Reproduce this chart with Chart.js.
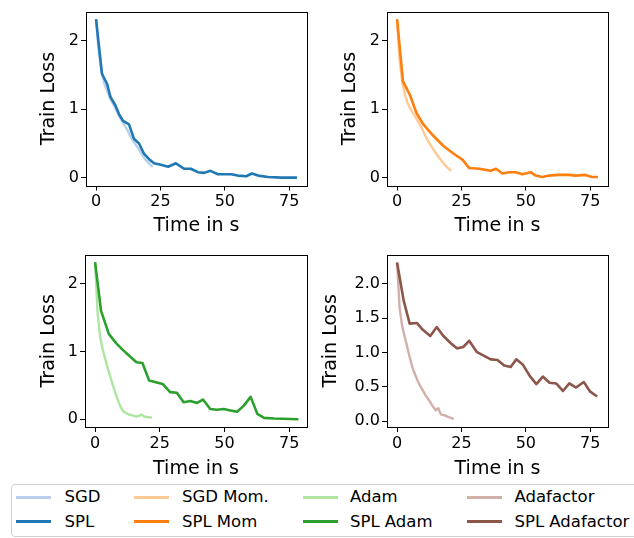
<!DOCTYPE html>
<html>
<head>
<meta charset="utf-8">
<script src="https://cdn.jsdelivr.net/npm/chart.js@4.4.0/dist/chart.umd.min.js"></script>
<style>
  body { margin: 0; background: #fff; font-family: "DejaVu Sans", sans-serif; }
  #wrap { position: relative; width: 634px; height: 538px; overflow: hidden; }
  canvas { position: absolute; }
  #legend { position: absolute; left: 10.5px; top: 483.5px; width: 640px; height: 53px;
            border: 1px solid #d0d0d0; border-radius: 4px; box-sizing: border-box; }
  .lg-line { position: absolute; width: 35px; height: 3px; }
  .lg-text { position: absolute; font-size: 16.5px; line-height: 20px; color: #000; white-space: nowrap; }
</style>
</head>
<body>
<div id="wrap">
  <canvas id="c1" width="317" height="240" style="left:0;top:0"></canvas>
  <canvas id="c2" width="317" height="240" style="left:317px;top:0"></canvas>
  <canvas id="c3" width="317" height="240" style="left:0;top:243px"></canvas>
  <canvas id="c4" width="317" height="240" style="left:317px;top:243px"></canvas>
  <div id="legend"></div>
</div>
<script>
// ---- data ----
const xTickVals = [0, 25, 50, 75];
const yTickVals = [0, 1, 2];
const yTickValsFine = [0, 0.5, 1, 1.5, 2];

// baselines, logged about once per second
const sgdTime = [0,1,2,3,4,5,6,7,8,9,10,11,12,13,14,15,16,17,18,19,20,21,22];
const sgdLoss = [2.31,1.85,1.58,1.40,1.30,1.20,1.12,1.05,0.98,0.90,0.83,0.77,0.71,0.63,0.56,0.50,0.45,0.39,0.33,0.27,0.23,0.19,0.16];

const sgdMomTime = [0,1,2,3,4,5,6,7,8,9,10,11,12,13,14,15,16,17,18,19,20,21];
const sgdMomLoss = [2.31,1.72,1.40,1.22,1.10,1.02,0.96,0.90,0.83,0.77,0.69,0.61,0.54,0.48,0.42,0.36,0.31,0.26,0.21,0.17,0.13,0.10];

const adamTime = [0,1,2,3,4,5,6,7,8,9,10,11,12,13,14,15,16,17,18,19,20,21,22];
const adamLoss = [2.31,1.55,1.20,1.02,0.88,0.74,0.61,0.49,0.37,0.26,0.17,0.11,0.09,0.07,0.06,0.05,0.04,0.05,0.07,0.04,0.03,0.03,0.02];

const adafactorTime = [0,1,2,3,4,5,6,7,8,9,10,11,12,13,14,15,16,17,18,19,20,21,22];
const adafactorLoss = [2.31,1.65,1.38,1.23,1.07,0.92,0.78,0.68,0.59,0.51,0.45,0.38,0.33,0.27,0.21,0.16,0.19,0.10,0.09,0.08,0.06,0.05,0.03];

// SPL runs
const splTime = [0,2.3,4.3,5.6,7.5,8.9,10.5,12.8,14.7,16.7,18.6,20.6,22.5,25.1,28.0,31.0,34.2,36.8,39.5,42.0,44.4,47.3,52.5,55.0,58.3,60.5,62.9,66.8,72.0,78.0];
const splLoss = [2.32,1.52,1.37,1.18,1.06,0.93,0.83,0.78,0.57,0.50,0.35,0.27,0.21,0.19,0.16,0.21,0.13,0.13,0.08,0.07,0.10,0.05,0.05,0.03,0.02,0.06,0.03,0.01,0.00,0.00];

const splMomTime = [0,2.3,4.9,7.5,10.0,13.9,17.8,21.6,25.5,28.0,31.9,36.4,38.4,40.9,43.5,46.0,48.6,51.9,53.8,56.4,59.0,62.8,66.7,69.2,73.1,75.7,78.0];
const splMomLoss = [2.32,1.41,1.22,0.95,0.79,0.62,0.47,0.36,0.26,0.14,0.13,0.10,0.13,0.06,0.08,0.08,0.05,0.08,0.03,0.01,0.03,0.04,0.04,0.03,0.04,0.01,0.01];

const splAdamTime = [0,2.3,5.3,8.2,10.8,13.4,16.0,18.3,20.9,23.1,26.1,29.0,31.6,34.2,36.8,39.4,41.7,44.5,47.1,49.7,52.3,54.9,57.5,60.1,62.7,65.3,69.2,78.6];
const splAdamLoss = [2.32,1.60,1.26,1.12,1.02,0.93,0.84,0.83,0.57,0.55,0.52,0.40,0.39,0.25,0.27,0.24,0.29,0.15,0.14,0.15,0.13,0.11,0.20,0.33,0.08,0.02,0.01,0.00];

const splAdafactorTime = [0,2.6,4.9,7.7,10.0,12.9,15.4,18.0,21.0,23.2,25.7,28.0,30.9,33.8,36.4,39.0,41.6,44.1,46.3,48.9,51.5,54.1,56.6,59.2,61.8,64.4,66.9,69.5,72.5,75.0,77.7];
const splAdafactorLoss = [2.31,1.75,1.42,1.43,1.33,1.24,1.37,1.24,1.13,1.06,1.08,1.17,1.01,0.95,0.90,0.89,0.81,0.79,0.90,0.82,0.66,0.54,0.65,0.56,0.55,0.44,0.55,0.49,0.57,0.43,0.36];

const legendLabels = ['SGD', 'SGD Mom.', 'Adam', 'Adafactor', 'SPL', 'SPL Mom', 'SPL Adam', 'SPL Adafactor'];
// light baselines are the tab20 pastel tones, a little washed out
const legendColors = ['rgba(174,199,232,0.85)', 'rgba(255,187,120,0.8)', 'rgba(152,223,138,0.8)', 'rgba(196,156,148,0.8)',
                      '#1f77b4', '#ff7f0e', '#2ca02c', '#8c564b'];

// ---- helpers ----
const toPoints = (xs, ys) => xs.map((x, i) => ({ x: x, y: ys[i] }));

// matplotlib style box round the plot area
const framePlugin = {
    id: 'frame',
    afterDatasetsDraw(chart) {
        const a = chart.chartArea, ctx = chart.ctx;
        ctx.save();
        ctx.strokeStyle = '#000';
        ctx.lineWidth = 1;
        ctx.strokeRect(Math.round(a.left) + 0.5, Math.round(a.top) + 0.5,
                       Math.round(a.right - a.left), Math.round(a.bottom - a.top));
        ctx.restore();
    }
};

function makePanel(id, p) {
    const ctx = document.getElementById(id).getContext('2d');
    new Chart(ctx, {
        type: 'line',
        data: {
            datasets: [
                { label: p.baseLabel, data: toPoints(p.baseX, p.baseY), borderColor: p.baseColor,
                  borderWidth: 2.4, pointRadius: 0, tension: 0, order: 1, borderJoinStyle: 'round' },
                { label: p.splLabel, data: toPoints(p.splX, p.splY), borderColor: p.splColor,
                  borderWidth: 2.6, pointRadius: 0, tension: 0, order: 0, borderJoinStyle: 'round' }
            ]
        },
        options: {
            responsive: false,
            animation: false,
            devicePixelRatio: 1,
            layout: { padding: { left: 0, right: p.padRight, top: 10, bottom: 0 } },
            plugins: { legend: { display: false }, tooltip: { enabled: false } },
            scales: {
                x: {
                    type: 'linear', min: -3.9, max: 81.9,
                    afterBuildTicks: s => { s.ticks = xTickVals.map(v => ({ value: v })); },
                    afterFit: s => { s.height = p.xHeight; },
                    ticks: { color: '#000', font: { family: 'DejaVu Sans', size: 16 }, padding: 2, maxRotation: 0 },
                    grid: { drawOnChartArea: false, drawTicks: true, tickLength: 5, color: '#000' },
                    border: { display: false },
                    title: { display: true, text: 'Time in s', color: '#000',
                             font: { family: 'DejaVu Sans', size: 19 }, padding: { top: 0, bottom: 3 } }
                },
                y: {
                    type: 'linear', min: p.yMin, max: p.yMax,
                    afterBuildTicks: s => { s.ticks = p.yTicks.map(v => ({ value: v })); },
                    afterFit: s => { s.width = p.yWidth; },
                    ticks: { color: '#000', font: { family: 'DejaVu Sans', size: 16 }, padding: 2,
                             callback: v => v.toFixed(p.decimals) },
                    grid: { drawOnChartArea: false, drawTicks: true, tickLength: 5, color: '#000' },
                    border: { display: false },
                    title: { display: true, text: 'Train Loss', color: '#000',
                             font: { family: 'DejaVu Sans', size: 19 }, padding: { top: p.titlePad, bottom: 0 } }
                }
            }
        },
        plugins: [framePlugin]
    });
}

makePanel('c1', { baseLabel: legendLabels[0], baseX: sgdTime, baseY: sgdLoss, baseColor: legendColors[0],
    splLabel: legendLabels[4], splX: splTime, splY: splLoss, splColor: legendColors[4],
    yMin: -0.115, yMax: 2.43, yTicks: yTickVals, decimals: 0,
    yWidth: 86, padRight: 10, xHeight: 54.5, titlePad: 38 });

makePanel('c2', { baseLabel: legendLabels[1], baseX: sgdMomTime, baseY: sgdMomLoss, baseColor: legendColors[1],
    splLabel: legendLabels[5], splX: splMomTime, splY: splMomLoss, splColor: legendColors[5],
    yMin: -0.115, yMax: 2.43, yTicks: yTickVals, decimals: 0,
    yWidth: 70, padRight: 26, xHeight: 54.5, titlePad: 21.5 });

makePanel('c3', { baseLabel: legendLabels[2], baseX: adamTime, baseY: adamLoss, baseColor: legendColors[2],
    splLabel: legendLabels[6], splX: splAdamTime, splY: splAdamLoss, splColor: legendColors[6],
    yMin: -0.115, yMax: 2.43, yTicks: yTickVals, decimals: 0,
    yWidth: 85, padRight: 10, xHeight: 56, titlePad: 38 });

makePanel('c4', { baseLabel: legendLabels[3], baseX: adafactorTime, baseY: adafactorLoss, baseColor: legendColors[3],
    splLabel: legendLabels[7], splX: splAdafactorTime, splY: splAdafactorLoss, splColor: legendColors[7],
    yMin: -0.084, yMax: 2.424, yTicks: yTickValsFine, decimals: 1,
    yWidth: 70, padRight: 26, xHeight: 56, titlePad: 2.6 });

// ---- legend (4 columns, 2 rows), x positions are page coordinates ----
const legendBox = document.getElementById('legend');
const boxLeft = 11.5, boxTop = 484.5;
const colLineX = [16, 133.5, 302.5, 467];
const colTextX = [64.5, 182, 350, 514.5];
const rowY = [497, 521.5];
legendLabels.forEach((label, i) => {
    const col = i % 4, row = Math.floor(i / 4);
    const line = document.createElement('div');
    line.className = 'lg-line';
    line.style.left = (colLineX[col] - boxLeft) + 'px';
    line.style.top = (rowY[row] - boxTop - 1.5) + 'px';
    line.style.background = legendColors[i];
    legendBox.appendChild(line);
    const txt = document.createElement('div');
    txt.className = 'lg-text';
    txt.style.left = (colTextX[col] - boxLeft) + 'px';
    txt.style.top = (rowY[row] - boxTop - 10) + 'px';
    txt.textContent = label;
    legendBox.appendChild(txt);
});
</script>
</body>
</html>
